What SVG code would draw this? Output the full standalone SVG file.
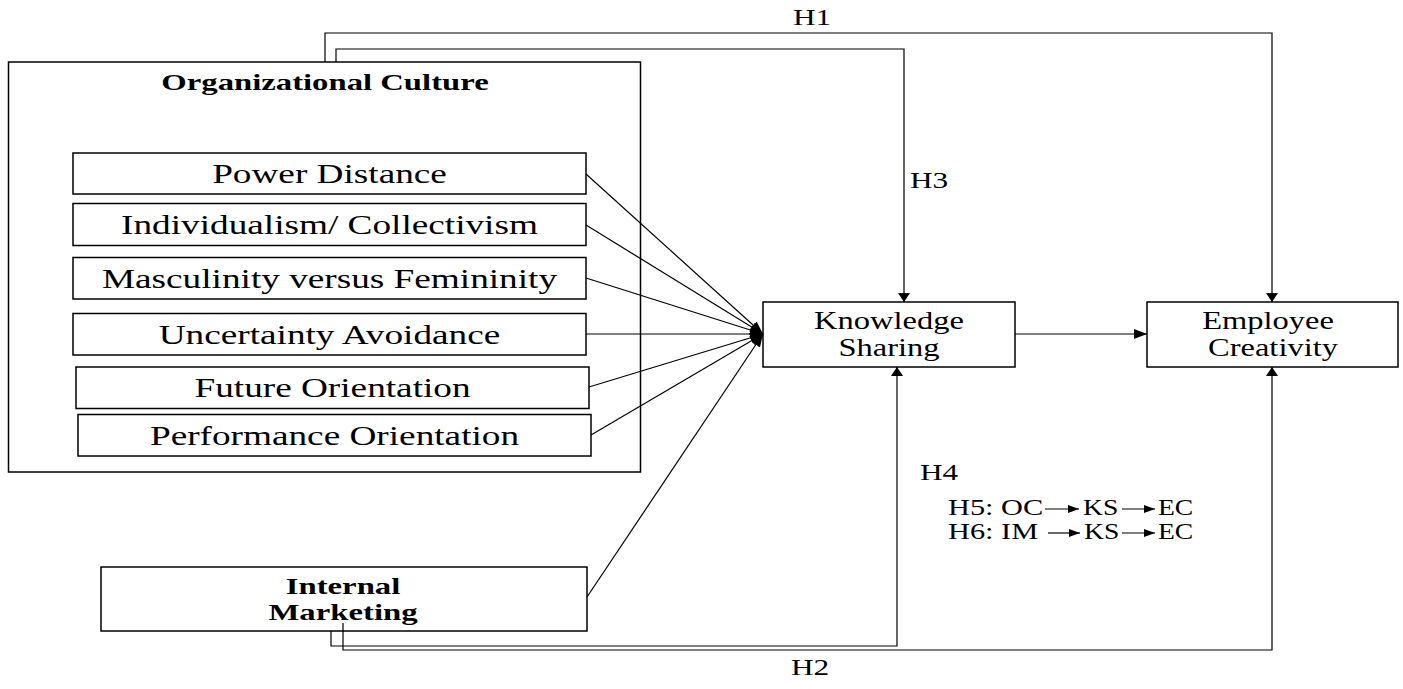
<svg xmlns="http://www.w3.org/2000/svg" width="1403" height="689" viewBox="0 0 1403 689">
<style>
text{font-family:"Liberation Serif","Times New Roman",serif;fill:#000;}
.box{fill:#fff;stroke:#000;stroke-width:1.5;}
.frame{fill:none;stroke:#000;stroke-width:1.5;}
.item{font-size:27px;text-anchor:middle;}
.lbl{font-size:23px;}
.b{font-weight:bold;font-size:23px;text-anchor:middle;}
.node{font-size:26px;text-anchor:middle;}
.ln{fill:none;stroke:#000;stroke-width:1.2;}
</style>
<defs>
<marker id="arr" markerUnits="userSpaceOnUse" markerWidth="14" markerHeight="12" refX="13" refY="5" orient="auto">
<path d="M0,0 L13,5 L0,10 z" fill="#000"/>
</marker>
<marker id="arrv" markerUnits="userSpaceOnUse" markerWidth="12" markerHeight="14" refX="9" refY="6" orient="auto">
<path d="M0,0 L9,6 L0,12 z" fill="#000"/>
</marker>
<marker id="sm" markerUnits="userSpaceOnUse" markerWidth="12" markerHeight="10" refX="11" refY="4" orient="auto">
<path d="M0,0 L11,4 L0,8 z" fill="#000"/>
</marker>
</defs>

<g id="organizational-culture">
<rect class="frame" x="8.5" y="62" width="632" height="410"/>
<text class="b" transform="translate(325,90) scale(1.422,1)">Organizational Culture</text>
</g>
<g id="power-distance">
<rect class="box" x="73" y="153" width="513" height="41"/>
<text class="item" transform="translate(329.5,183) scale(1.38,1)">Power Distance</text>
</g>
<g id="individualism">
<rect class="box" x="73" y="203.5" width="513" height="42"/>
<text class="item" transform="translate(329.5,234) scale(1.38,1)">Individualism/ Collectivism</text>
</g>
<g id="masculinity">
<rect class="box" x="73" y="257.5" width="513" height="41.5"/>
<text class="item" transform="translate(329.5,287.5) scale(1.38,1)">Masculinity versus Femininity</text>
</g>
<g id="uncertainty-avoidance">
<rect class="box" x="73" y="313.5" width="513" height="41.5"/>
<text class="item" transform="translate(329.5,343.5) scale(1.38,1)">Uncertainty Avoidance</text>
</g>
<g id="future-orientation">
<rect class="box" x="76" y="367" width="513" height="41.5"/>
<text class="item" transform="translate(332.5,397) scale(1.38,1)">Future Orientation</text>
</g>
<g id="performance-orientation">
<rect class="box" x="78" y="414.5" width="513" height="41.5"/>
<text class="item" transform="translate(334.5,444.5) scale(1.38,1)">Performance Orientation</text>
</g>

<g id="internal-marketing">
<rect class="box" x="101" y="567" width="486" height="64"/>
<text class="b" transform="translate(343,594) scale(1.425,1)">Internal</text>
<text class="b" transform="translate(343,620) scale(1.425,1)">Marketing</text>
</g>

<g id="knowledge-sharing">
<rect class="box" x="763" y="302" width="252" height="65"/>
<text class="node" transform="translate(889,329) scale(1.25,1)">Knowledge</text>
<text class="node" transform="translate(889,356) scale(1.25,1)">Sharing</text>
</g>

<g id="employee-creativity">
<rect class="box" x="1147" y="302" width="251" height="65"/>
<text class="node" transform="translate(1268,329) scale(1.25,1)">Employee</text>
<text class="node" transform="translate(1273,356) scale(1.25,1)">Creativity</text>
</g>

<g id="connectors">
<path class="ln" d="M325,62 V33 H1272 V302" marker-end="url(#arrv)"/>
<path class="ln" d="M336,62 V49 H904 V302" marker-end="url(#arrv)"/>
<path class="ln" d="M331,631 V646 H897 V367" marker-end="url(#arrv)"/>
<path class="ln" d="M343,623 V650 H1272 V367" marker-end="url(#arrv)"/>
<line class="ln" x1="1015" y1="334" x2="1147" y2="334" marker-end="url(#arr)"/>
<line class="ln" x1="586" y1="174" x2="763" y2="334" marker-end="url(#arr)"/>
<line class="ln" x1="586" y1="225" x2="763" y2="334" marker-end="url(#arr)"/>
<line class="ln" x1="586" y1="278" x2="763" y2="334" marker-end="url(#arr)"/>
<line class="ln" x1="586" y1="334" x2="763" y2="334" marker-end="url(#arr)"/>
<line class="ln" x1="589" y1="387" x2="763" y2="334" marker-end="url(#arr)"/>
<line class="ln" x1="591" y1="435" x2="763" y2="334" marker-end="url(#arr)"/>
<line class="ln" x1="587" y1="597" x2="763" y2="334" marker-end="url(#arr)"/>
</g>

<g id="labels">
<text class="lbl" transform="translate(793,25) scale(1.36,1)">H1</text>
<text class="lbl" transform="translate(910,188) scale(1.36,1)">H3</text>
<text class="lbl" transform="translate(920,480) scale(1.36,1)">H4</text>
<text class="lbl" transform="translate(791,675) scale(1.36,1)">H2</text>
<text class="lbl" transform="translate(948,515) scale(1.32,1)">H5: OC</text>
<line class="ln" x1="1045" y1="509" x2="1079" y2="509" marker-end="url(#sm)"/>
<text class="lbl" transform="translate(1083,515) scale(1.2,1)">KS</text>
<line class="ln" x1="1122" y1="509" x2="1155" y2="509" marker-end="url(#sm)"/>
<text class="lbl" transform="translate(1158,515) scale(1.2,1)">EC</text>
<text class="lbl" transform="translate(948,539) scale(1.32,1)">H6: IM</text>
<line class="ln" x1="1048" y1="533" x2="1080" y2="533" marker-end="url(#sm)"/>
<text class="lbl" transform="translate(1084,539) scale(1.2,1)">KS</text>
<line class="ln" x1="1122" y1="533" x2="1155" y2="533" marker-end="url(#sm)"/>
<text class="lbl" transform="translate(1158,539) scale(1.2,1)">EC</text>
</g>
</svg>
